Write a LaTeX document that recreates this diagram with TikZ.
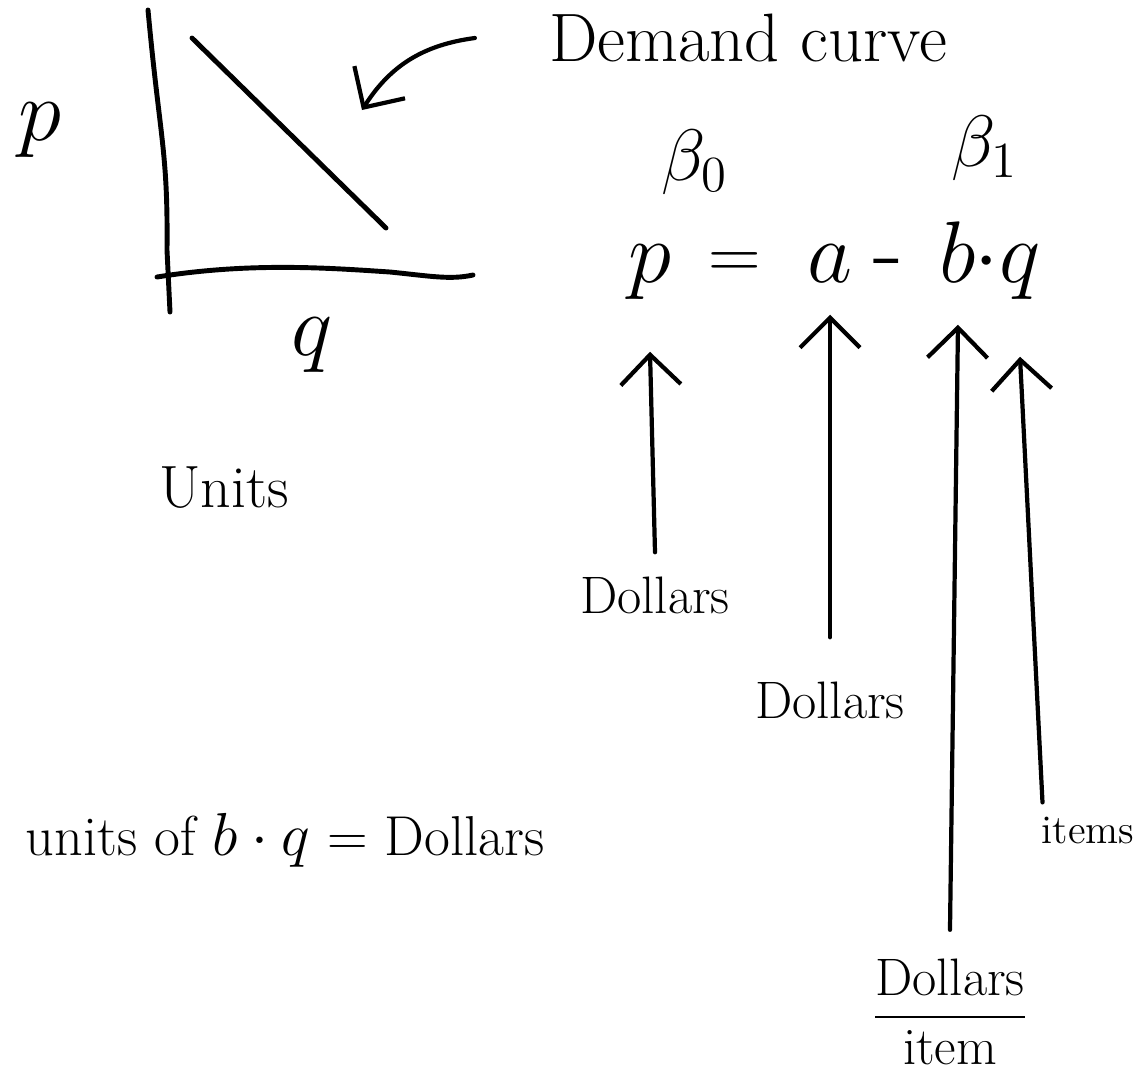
\documentclass[tikz,border=0pt]{standalone}
\usepackage{amsmath}
\usetikzlibrary{positioning, arrows.meta, calc}

\begin{document}
\begin{tikzpicture}[
    x=0.1mm, y=-0.1mm,
    >={Straight Barb[length=3mm, width=6mm, line width=1.2pt]},
    hand/.style={font=\fontsize{15}{18}\selectfont, inner sep=1pt},
    eqsym/.style={font=\fontsize{28}{32}\selectfont, anchor=base, inner sep=2pt},
    axis/.style={line width=1.4pt, line cap=round},
    arrow/.style={->, line width=1.2pt, line cap=round}
]
\useasboundingbox (0,0) rectangle (1141,1080);

%% ============================================================
%% GRAPH: DEMAND CURVE
%% ============================================================
\draw[axis] (148,10) .. controls (160,140) and (168,150) .. (167,250) -- (170,312);
\draw[axis] (157,277) .. controls (250,262) and (330,268) .. (390,272)
            .. controls (430,276) and (450,280) .. (473,275);
\draw[axis] (192,38) -- (386,228);

\node[hand, font=\fontsize{26}{30}\selectfont] (plabel) at (40,130) {$p$};
\node[hand, font=\fontsize{26}{30}\selectfont] (qlabel) at (312,345) {$q$};
\node[hand, font=\fontsize{17}{20}\selectfont] (units) at (224,488) {Units};

%% --- label of the curve ---
\node[hand, font=\fontsize{19.5}{23}\selectfont] (demand) at (748,38) {Demand curve};
\coordinate (curvetip) at (362,110);
\draw[arrow] ([xshift=-7mm]demand.west) to[bend right=25] (curvetip);

%% ============================================================
%% EQUATION
%% ============================================================
\node[eqsym] (eqp) at (650,282) {$p$};
\node[eqsym, font=\fontsize{20}{24}\selectfont] (eqeq) at (735,278) {$=$};
\node[eqsym] (eqa) at (830,282) {$a$};
\node[eqsym] (eqminus) at (888,282) {-};
\node[eqsym] (eqb) at (958,282) {$b$};
\node[eqsym] (eqdot) at (987,282) {$\cdot$};
\node[eqsym] (eqq) at (1020,282) {$q$};

\node[hand, font=\fontsize{20}{24}\selectfont] (beta0) at (695,162) {$\beta_0$};
\node[hand, font=\fontsize{20}{24}\selectfont] (beta1) at (985,148) {$\beta_1$};

%% --- units of each term ---
\node[hand] (dollarsP) at (655,595) {Dollars};
\node[hand] (dollarsA) at (830,700) {Dollars};
\node[hand] (perItem) at (950,1012) {$\dfrac{\text{Dollars}}{\text{item}}$};
\node[hand, font=\fontsize{11.5}{14}\selectfont] (items) at (1088,830) {items};

\draw[arrow] ([yshift=2mm]dollarsP.north) -- ([yshift=-4.5mm]eqp.south);
\draw[arrow] ([yshift=4mm]dollarsA.north) -- ([yshift=-2.5mm]eqa.south);
\draw[arrow] ([yshift=2.5mm]perItem.north) -- ([yshift=-3.5mm]eqb.south);
\draw[arrow] ([xshift=0.5mm, yshift=1mm]items.north west) -- ([yshift=-5mm]eqq.south);

\node[hand, font=\fontsize{16}{19}\selectfont] (unitsOf) at (285,840) {units of $b\cdot q$ = Dollars};

\end{tikzpicture}
\end{document}
